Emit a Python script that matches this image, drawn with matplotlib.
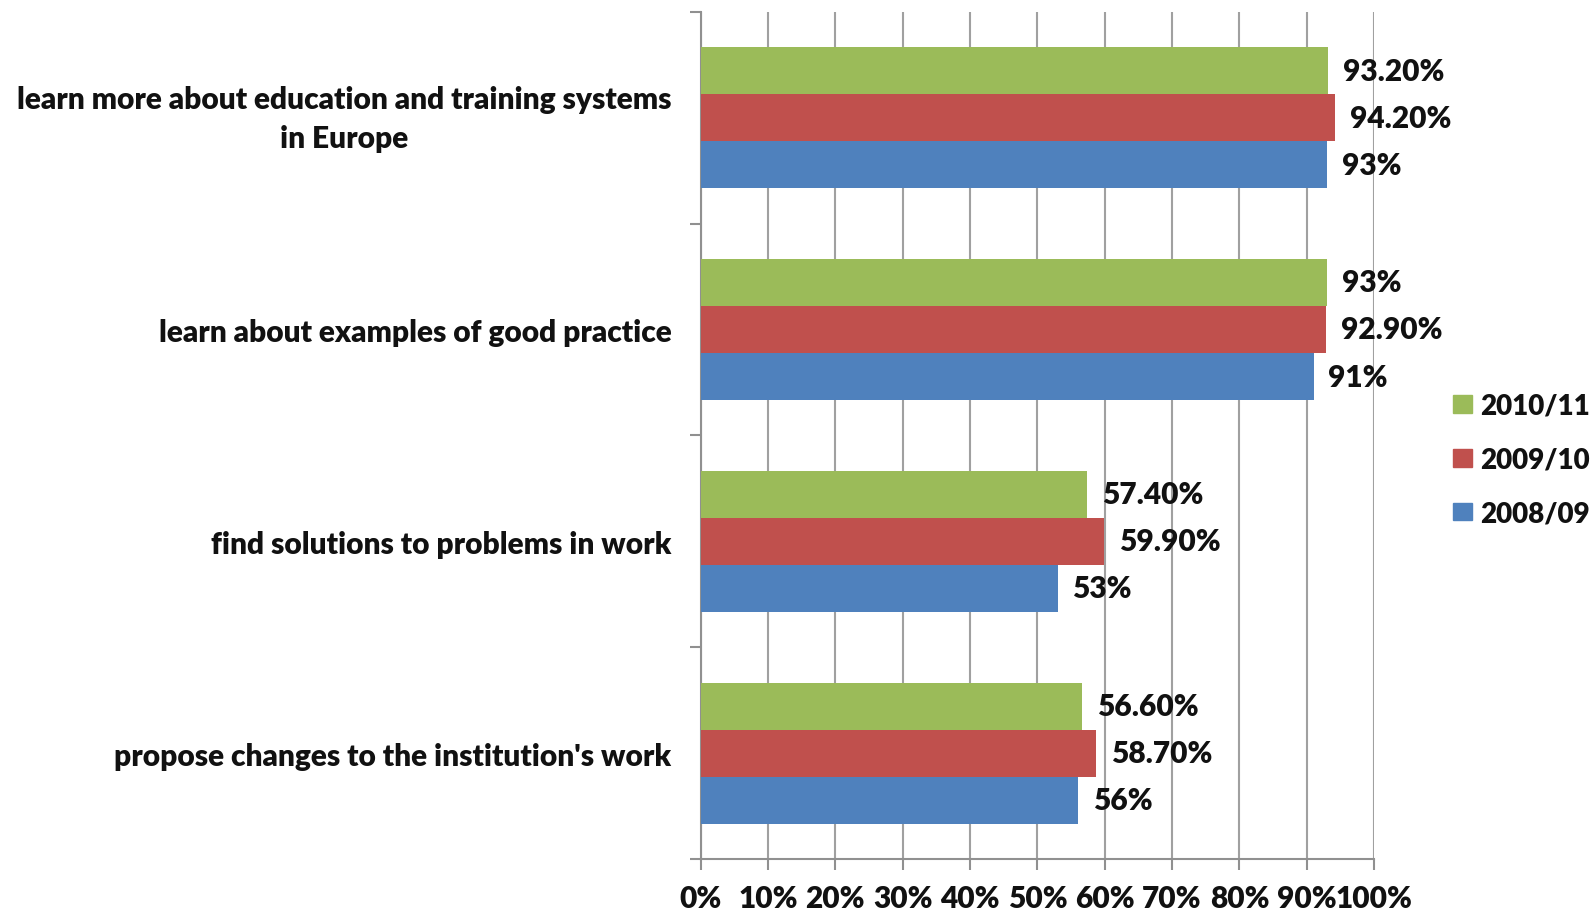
import matplotlib
matplotlib.use('Agg')
import matplotlib.pyplot as plt
from matplotlib.patches import Patch
import matplotlib.transforms as mtransforms
import numpy as np

plt.rcParams['font.family'] = ['Lato', 'DejaVu Sans']
plt.rcParams['font.weight'] = 'heavy'

categories = ["learn more about education and training systems\nin Europe",
              "learn about examples of good practice",
              "find solutions to problems in work",
              "propose changes to the institution's work"]
series = ['2008/09', '2009/10', '2010/11']
vals_0809 = [93.0, 91.0, 53.0, 56.0]
vals_0910 = [94.2, 92.9, 59.9, 58.7]
vals_1011 = [93.2, 93.0, 57.4, 56.6]
colors = ['#4F81BD', '#C0504D', '#9BBB59']
ticks = [0, 10, 20, 30, 40, 50, 60, 70, 80, 90, 100]


def fmt(v):
    # excel style: whole numbers without decimals
    if float(v).is_integer():
        return '%d%%' % v
    return '%.2f%%' % v


fig = plt.figure(figsize=(15.96, 9.12), dpi=100)
ax = fig.add_axes([0.439, 0.057, 0.422, 0.929])

y = np.arange(len(categories))[::-1].astype(float)
h = 0.222
fs = 21.5
txt = '#111111'

for i, (vals, col) in enumerate(zip([vals_0809, vals_0910, vals_1011], colors)):
    pos = y + (i - 1) * h
    ax.barh(pos, vals, height=h, color=col, zorder=3)
    for p, v in zip(pos, vals):
        ax.text(v + 2.2, p, fmt(v), va='center', ha='left', fontsize=fs,
                fontweight='heavy', color=txt, zorder=4)

ax.set_xlim(0, 100)
ax.set_ylim(-0.5, 3.5)
ax.set_xticks(ticks)
ax.set_xticklabels(['%d%%' % t for t in ticks], fontsize=fs, fontweight='heavy', color=txt)
ax.set_yticks(y)
ax.set_yticklabels(categories, fontsize=fs, fontweight='heavy', color=txt,
                   multialignment='center', linespacing=1.45)
ax.set_yticks(np.arange(-0.5, 4, 1), minor=True)
ax.tick_params(axis='y', which='major', length=0, pad=21)
ax.tick_params(axis='y', which='minor', length=8, color='#909090', width=1.5)
ax.tick_params(axis='x', length=8, color='#909090', width=1.5, pad=10)
ax.grid(axis='x', color='#a0a0a0', linewidth=1.5, zorder=0)

# the wrapped label sits a little high in the original
lab0 = ax.get_yticklabels()[0]
lab0.set_transform(lab0.get_transform() +
                   mtransforms.ScaledTranslation(0, 5 / 72, fig.dpi_scale_trans))

for s in ['top', 'right']:
    ax.spines[s].set_visible(False)
for s in ['left', 'bottom']:
    ax.spines[s].set_color('#909090')
    ax.spines[s].set_linewidth(1.5)

handles = [Patch(color=colors[2], label=series[2]),
           Patch(color=colors[1], label=series[1]),
           Patch(color=colors[0], label=series[0])]
leg = fig.legend(handles=handles, loc='center left', bbox_to_anchor=(0.9104, 0.495),
                 frameon=False, fontsize=20, handlelength=0.68, handleheight=0.6,
                 handletextpad=0.29, labelspacing=1.0, borderpad=0, borderaxespad=0)
for t in leg.get_texts():
    t.set_color(txt)

fig.savefig('out.png', dpi=100)
